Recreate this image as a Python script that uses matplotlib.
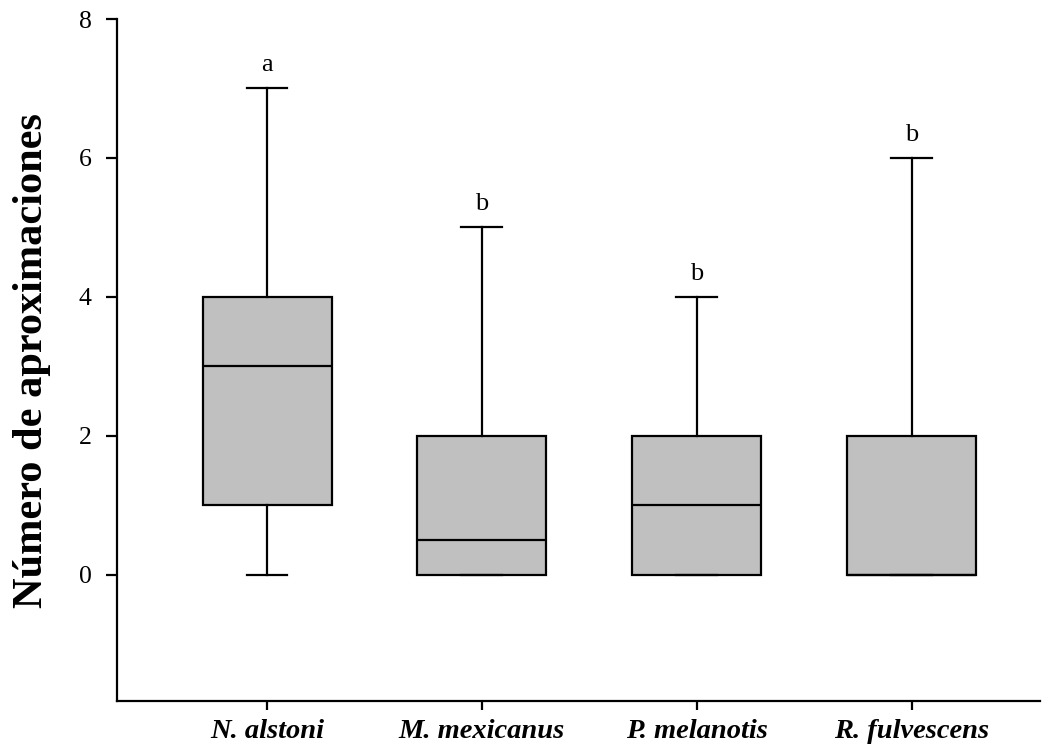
import matplotlib.pyplot as plt

plt.rcParams['font.family'] = ['Liberation Serif', 'DejaVu Serif']

species = ["N. alstoni", "M. mexicanus", "P. melanotis", "R. fulvescens"]
whislo = [0, 0, 0, 0]
q1 = [1, 0, 0, 0]
med = [3, 0.5, 1, 0]
q3 = [4, 2, 2, 2]
whishi = [7, 5, 4, 6]
letters = ["a", "b", "b", "b"]

stats = []
for i in range(len(species)):
    stats.append(dict(label=species[i], whislo=whislo[i], q1=q1[i], med=med[i],
                      q3=q3[i], whishi=whishi[i], fliers=[]))

fig = plt.figure(figsize=(10.51, 7.46), dpi=100)
ax = fig.add_axes([0.111, 0.060, 0.879, 0.9145])

lw = 1.6
pos = list(range(1, len(species) + 1))
ax.bxp(stats, positions=pos, widths=0.6, patch_artist=True, showfliers=False,
       boxprops=dict(facecolor="#c0c0c0", edgecolor="black", linewidth=lw),
       medianprops=dict(color="black", linewidth=lw),
       whiskerprops=dict(color="black", linewidth=lw),
       capprops=dict(color="black", linewidth=lw),
       capwidths=0.19)

# letras de significancia sobre cada bigote
for p, hi, lab in zip(pos, whishi, letters):
    ax.text(p, hi + 0.25, lab, ha="center", va="baseline", fontsize=19)

ax.set_xlim(0.3, 4.6)
ax.set_ylim(-1.82, 8)
ax.set_yticks([0, 2, 4, 6, 8])
ax.set_xticks(pos)
ax.set_xticklabels(species, fontsize=20.5, fontweight="bold", fontstyle="italic")
ax.tick_params(axis="y", labelsize=18.5, length=8, width=lw, direction="out", pad=10)
ax.tick_params(axis="x", length=6.5, width=lw, direction="out", pad=6)
ax.set_ylabel("Número de aproximaciones", fontsize=30.5, fontweight="bold", labelpad=20)

ax.spines["top"].set_visible(False)
ax.spines["right"].set_visible(False)
ax.spines["left"].set_linewidth(lw)
ax.spines["bottom"].set_linewidth(lw)

fig.savefig("out.png", dpi=100)
